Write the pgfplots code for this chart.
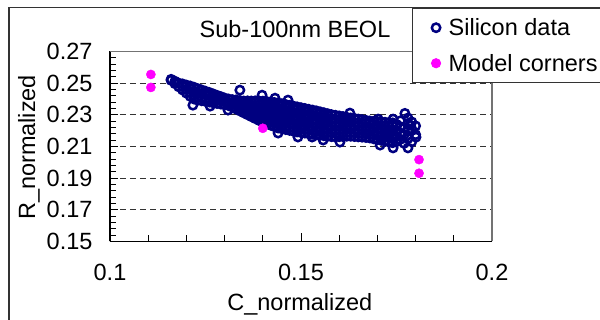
\documentclass[border=0pt]{standalone}
\usepackage{fontspec}
\setmainfont{Liberation Sans}
\usepackage{pgfplots}
\pgfplotsset{compat=1.18}
\usepackage{pgfplotstable}
\definecolor{navy}{RGB}{0,0,128}
\definecolor{mag}{RGB}{255,0,255}
\pgfplotstableread{
x y
0.116 0.2518
0.116 0.2524
0.117 0.2497
0.117 0.2512
0.118 0.2477
0.118 0.2500
0.119 0.2457
0.119 0.2478
0.119 0.2495
0.120 0.2437
0.120 0.2462
0.120 0.2488
0.121 0.2417
0.121 0.2442
0.121 0.2465
0.121 0.2482
0.122 0.2400
0.122 0.2425
0.122 0.2450
0.122 0.2474
0.123 0.2393
0.123 0.2413
0.123 0.2438
0.123 0.2465
0.124 0.2389
0.124 0.2410
0.124 0.2435
0.124 0.2457
0.125 0.2385
0.125 0.2405
0.125 0.2428
0.125 0.2449
0.126 0.2381
0.126 0.2401
0.126 0.2423
0.126 0.2441
0.127 0.2376
0.127 0.2396
0.127 0.2416
0.127 0.2432
0.128 0.2372
0.128 0.2392
0.128 0.2410
0.128 0.2423
0.129 0.2368
0.129 0.2388
0.129 0.2405
0.129 0.2415
0.130 0.2363
0.130 0.2385
0.130 0.2406
0.131 0.2359
0.131 0.2380
0.131 0.2400
0.132 0.2349
0.132 0.2372
0.132 0.2396
0.133 0.2337
0.133 0.2360
0.133 0.2380
0.133 0.2394
0.134 0.2325
0.134 0.2348
0.134 0.2370
0.134 0.2390
0.135 0.2313
0.135 0.2337
0.135 0.2362
0.135 0.2387
0.136 0.2301
0.136 0.2325
0.136 0.2350
0.136 0.2372
0.136 0.2388
0.137 0.2289
0.137 0.2312
0.137 0.2337
0.137 0.2362
0.137 0.2387
0.138 0.2277
0.138 0.2300
0.138 0.2325
0.138 0.2350
0.138 0.2375
0.138 0.2388
0.139 0.2265
0.139 0.2288
0.139 0.2312
0.139 0.2337
0.139 0.2362
0.139 0.2387
0.140 0.2253
0.140 0.2277
0.140 0.2300
0.140 0.2325
0.140 0.2350
0.140 0.2372
0.140 0.2386
0.141 0.2244
0.141 0.2265
0.141 0.2290
0.141 0.2315
0.141 0.2340
0.141 0.2363
0.141 0.2384
0.142 0.2235
0.142 0.2257
0.142 0.2280
0.142 0.2305
0.142 0.2330
0.142 0.2355
0.142 0.2381
0.143 0.2226
0.143 0.2250
0.143 0.2275
0.143 0.2300
0.143 0.2325
0.143 0.2350
0.143 0.2378
0.144 0.2217
0.144 0.2240
0.144 0.2265
0.144 0.2290
0.144 0.2315
0.144 0.2340
0.144 0.2362
0.144 0.2375
0.145 0.2212
0.145 0.2235
0.145 0.2260
0.145 0.2285
0.145 0.2310
0.145 0.2335
0.145 0.2358
0.145 0.2370
0.146 0.2207
0.146 0.2228
0.146 0.2252
0.146 0.2277
0.146 0.2302
0.146 0.2327
0.146 0.2350
0.146 0.2365
0.147 0.2202
0.147 0.2222
0.147 0.2247
0.147 0.2272
0.147 0.2297
0.147 0.2322
0.147 0.2345
0.147 0.2360
0.148 0.2197
0.148 0.2218
0.148 0.2242
0.148 0.2267
0.148 0.2290
0.148 0.2315
0.148 0.2337
0.148 0.2355
0.149 0.2192
0.149 0.2213
0.149 0.2237
0.149 0.2262
0.149 0.2287
0.149 0.2312
0.149 0.2335
0.149 0.2350
0.150 0.2188
0.150 0.2210
0.150 0.2232
0.150 0.2257
0.150 0.2282
0.150 0.2307
0.150 0.2330
0.150 0.2345
0.151 0.2185
0.151 0.2207
0.151 0.2230
0.151 0.2255
0.151 0.2280
0.151 0.2302
0.151 0.2325
0.151 0.2340
0.152 0.2181
0.152 0.2203
0.152 0.2227
0.152 0.2250
0.152 0.2275
0.152 0.2300
0.152 0.2320
0.152 0.2335
0.153 0.2178
0.153 0.2200
0.153 0.2223
0.153 0.2247
0.153 0.2270
0.153 0.2295
0.153 0.2315
0.153 0.2330
0.154 0.2174
0.154 0.2197
0.154 0.2220
0.154 0.2245
0.154 0.2268
0.154 0.2292
0.154 0.2312
0.154 0.2325
0.155 0.2171
0.155 0.2193
0.155 0.2217
0.155 0.2240
0.155 0.2265
0.155 0.2288
0.155 0.2307
0.155 0.2319
0.156 0.2168
0.156 0.2190
0.156 0.2213
0.156 0.2237
0.156 0.2260
0.156 0.2283
0.156 0.2302
0.156 0.2313
0.157 0.2165
0.157 0.2188
0.157 0.2210
0.157 0.2233
0.157 0.2257
0.157 0.2280
0.157 0.2297
0.157 0.2307
0.158 0.2162
0.158 0.2185
0.158 0.2207
0.158 0.2230
0.158 0.2253
0.158 0.2275
0.158 0.2301
0.159 0.2161
0.159 0.2183
0.159 0.2205
0.159 0.2228
0.159 0.2250
0.159 0.2272
0.159 0.2297
0.160 0.2162
0.160 0.2183
0.160 0.2205
0.160 0.2227
0.160 0.2250
0.160 0.2272
0.160 0.2293
0.161 0.2163
0.161 0.2185
0.161 0.2207
0.161 0.2230
0.161 0.2252
0.161 0.2272
0.161 0.2289
0.162 0.2165
0.162 0.2187
0.162 0.2210
0.162 0.2232
0.162 0.2255
0.162 0.2270
0.162 0.2284
0.163 0.2165
0.163 0.2187
0.163 0.2210
0.163 0.2232
0.163 0.2255
0.163 0.2280
0.164 0.2163
0.164 0.2185
0.164 0.2207
0.164 0.2230
0.164 0.2252
0.164 0.2277
0.165 0.2161
0.165 0.2183
0.165 0.2205
0.165 0.2228
0.165 0.2250
0.165 0.2273
0.166 0.2159
0.166 0.2181
0.166 0.2203
0.166 0.2225
0.166 0.2248
0.166 0.2269
0.167 0.2157
0.167 0.2180
0.167 0.2202
0.167 0.2225
0.167 0.2247
0.167 0.2265
0.168 0.2154
0.168 0.2177
0.168 0.2200
0.168 0.2222
0.168 0.2244
0.168 0.2261
0.169 0.2149
0.169 0.2172
0.169 0.2195
0.169 0.2218
0.169 0.2240
0.169 0.2259
0.170 0.2144
0.170 0.2168
0.170 0.2190
0.170 0.2213
0.170 0.2236
0.170 0.2257
0.171 0.2139
0.171 0.2163
0.171 0.2187
0.171 0.2210
0.171 0.2233
0.171 0.2255
0.172 0.2134
0.172 0.2158
0.172 0.2182
0.172 0.2205
0.172 0.2230
0.172 0.2253
0.173 0.2129
0.173 0.2155
0.173 0.2180
0.173 0.2205
0.173 0.2230
0.173 0.2251
0.174 0.2124
0.174 0.2150
0.174 0.2177
0.174 0.2202
0.174 0.2228
0.174 0.2249
0.175 0.2130
0.175 0.2165
0.175 0.2200
0.175 0.2240
0.176 0.2145
0.176 0.2185
0.176 0.2225
0.176 0.2262
0.177 0.2120
0.177 0.2175
0.177 0.2215
0.1772 0.2309
0.178 0.2150
0.178 0.2200
0.178 0.2245
0.178 0.2280
0.179 0.2130
0.179 0.2210
0.179 0.2255
0.180 0.2175
0.180 0.2230
0.1801 0.2159
0.1785 0.2235
0.1780 0.2091
0.1340 0.2456
0.1217 0.2361
0.1262 0.2355
0.1309 0.2330
0.1440 0.2185
0.1492 0.2160
0.1529 0.2160
0.1558 0.2141
0.1602 0.2128
0.1707 0.2109
0.1741 0.2091
0.1628 0.2311
0.1432 0.2405
0.1466 0.2393
0.1398 0.2424
0.1702 0.2273
0.1741 0.2273
}\silicon
\pgfplotstableread{
x y
0.1107 0.2555
0.1107 0.2473
0.1400 0.2215
0.1809 0.2017
0.1809 0.1931
}\corners
\begin{document}
\begin{tikzpicture}
\path[use as bounding box] (0pt,0pt) rectangle (600pt,320pt);
\draw[black!80, line width=1.2pt] (9pt,-20pt) rectangle (640pt,312.5pt);
\begin{axis}[
  at={(110pt,78.5pt)}, anchor=south west,
  scale only axis, width=382pt, height=190pt,
  xmin=0.1, xmax=0.2, ymin=0.15, ymax=0.27,
  axis x line*=bottom, axis y line*=left,
  axis line style={black, line width=1.3pt},
  xtick={0.1,0.15,0.2}, minor x tick num=4,
  ytick={0.15,0.17,0.19,0.21,0.23,0.25,0.27}, minor y tick num=4,
  tick align=inside,
  major tick length=8pt, minor tick length=6pt,
  tick style={black, line width=1pt},
  ymajorgrids=true,
  grid style={black!80, line width=1pt, dash pattern=on 6pt off 4pt},
  /pgf/number format/assume math mode=true,
  /pgf/number format/fixed,
  /pgf/number format/precision=2,
  tick label style={font=\fontsize{23.5}{26}\selectfont},
  xticklabel style={yshift=-19pt},
  yticklabel style={xshift=-14pt},
  xlabel={C\_normalized}, ylabel={R\_normalized},
  label style={font=\fontsize{23.5}{26}\selectfont},
  xlabel style={at={(axis description cs:0.497,-0.3658)}, anchor=base},
  ylabel style={at={(axis description cs:-0.1963,0.495)}, anchor=base},
  title={Sub-100nm BEOL},
  title style={at={(axis description cs:0.4843,1.0395)}, anchor=base, font=\fontsize{23.5}{26}\selectfont},
  legend style={at={(axis description cs:0.7906,1.2289)}, anchor=north west,
    draw=black!80, line width=0.9pt, fill=white,
    font=\fontsize{23.5}{26}\selectfont,
    inner xsep=19pt, inner ysep=8pt, row sep=13pt,
    cells={anchor=west},
    /tikz/every odd column/.append style={column sep=6pt}},
  legend cell align=left,
  clip=false,
]
\addplot[only marks, mark=o, mark size=4.2pt, navy, line width=2.5pt] table {\silicon};
\addlegendentry{Silicon data\hspace*{20pt}}
\addplot[only marks, mark=*, mark size=4.6pt, mag, mark options={draw=mag, fill=mag}] table {\corners};
\addlegendentry{Model corners\hspace*{20pt}}
\draw[black!55, line width=1.2pt] (rel axis cs:0,1) -- (rel axis cs:1,1) -- (rel axis cs:1,0);
\end{axis}
\end{tikzpicture}
\end{document}
